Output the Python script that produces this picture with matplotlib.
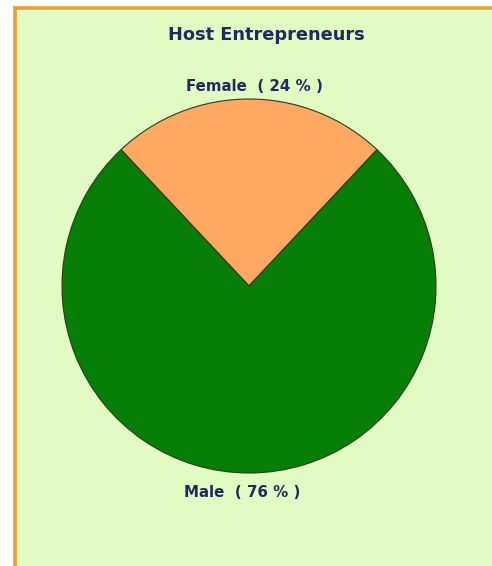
import matplotlib
matplotlib.use("Agg")
import matplotlib.pyplot as plt
from matplotlib.patches import Rectangle
from matplotlib.transforms import ScaledTranslation

title = "Host Entrepreneurs"
categories = ["Female", "Male"]
percents = [24, 76]
colors = ["#FFA862", "#077F07"]

W, H = 492, 566
fig = plt.figure(figsize=(W / 100, H / 100), dpi=100)
fig.patch.set_facecolor("white")

# background panel with orange frame on top/left
fig.add_artist(Rectangle((14 / W, 0), 1 - 14 / W, 1 - 8 / H, transform=fig.transFigure,
                         facecolor="#E2FBC2", edgecolor="none", zorder=0))
fig.add_artist(plt.Line2D([14.5 / W, 1], [1 - 8 / H, 1 - 8 / H], transform=fig.transFigure,
                          color="#E8A230", lw=2.6, zorder=1))
fig.add_artist(plt.Line2D([14.5 / W, 14.5 / W], [0, 1 - 8 / H], transform=fig.transFigure,
                          color="#E8A230", lw=2.6, zorder=1))

cx, cy, r = 249, 286, 187
ax = fig.add_axes([(cx - r) / W, (H - cy - r) / H, 2 * r / W, 2 * r / H])
ax.set_facecolor("none")

start = 90 - percents[0] / 100 * 360 / 2
labels = [f"{c}  ( {p} % )" for c, p in zip(categories, percents)]
wedges, texts = ax.pie(percents, colors=colors, startangle=start, counterclock=True,
                       labels=labels, labeldistance=1.085,
                       wedgeprops=dict(edgecolor="#2a3a20", linewidth=0.8),
                       textprops=dict(fontsize=10.8, fontweight="bold", color="#1E2B5E",
                                      family="DejaVu Sans"))
label_nudge = [(5, -3), (-7, -4)]  # small nudges in pixels
for t, (dx, dy) in zip(texts, label_nudge):
    t.set_ha("center")
    t.set_va("center")
    t.set_transform(t.get_transform() + ScaledTranslation(dx / 100, dy / 100, fig.dpi_scale_trans))
ax.set_aspect("equal")
ax.set_xlim(-1, 1)
ax.set_ylim(-1, 1)
ax.axis("off")

fig.text(266 / W, 1 - 35 / H, title, ha="center", va="center", fontsize=12.8,
         fontweight="bold", color="#1E2B5E", family="DejaVu Sans")

fig.savefig("out.png", dpi=100, facecolor=fig.get_facecolor())
